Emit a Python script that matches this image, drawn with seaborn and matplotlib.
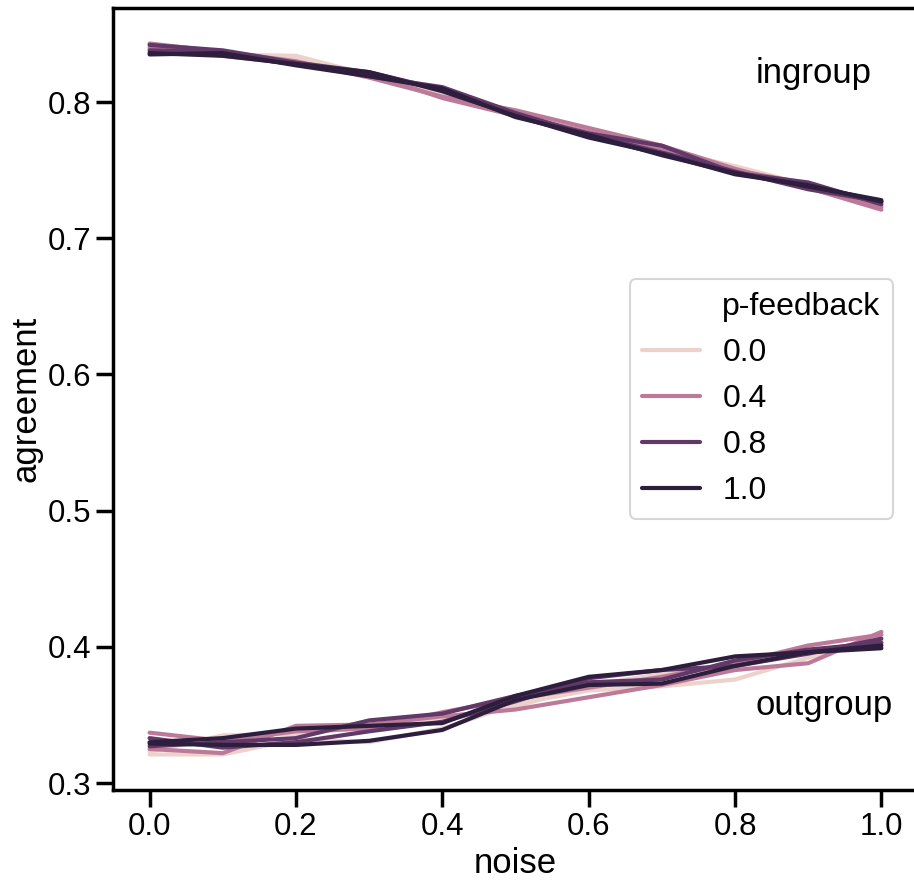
import matplotlib
matplotlib.use("Agg")
import matplotlib.pyplot as plt
from matplotlib.lines import Line2D
import pandas as pd
import seaborn as sns

# noise levels on the x axis
noise = [0.0, 0.1, 0.2, 0.3, 0.4, 0.5, 0.6, 0.7, 0.8, 0.9, 1.0]

# p-feedback levels (hue), two runs each
p_feedback = [0.0, 0.4, 0.8, 1.0]
runs = [1, 2]

# agreement, ingroup: one list per (p-feedback, run)
ingroup = {
    (0.0, 1): [0.839, 0.836, 0.832, 0.821, 0.806, 0.791, 0.779, 0.767, 0.752, 0.738, 0.724],
    (0.0, 2): [0.837, 0.835, 0.834, 0.820, 0.807, 0.793, 0.777, 0.765, 0.753, 0.739, 0.726],
    (0.4, 1): [0.843, 0.837, 0.830, 0.818, 0.804, 0.794, 0.781, 0.768, 0.751, 0.737, 0.721],
    (0.4, 2): [0.840, 0.834, 0.828, 0.821, 0.803, 0.790, 0.778, 0.766, 0.750, 0.740, 0.723],
    (0.8, 1): [0.842, 0.838, 0.829, 0.822, 0.809, 0.790, 0.777, 0.768, 0.748, 0.741, 0.725],
    (0.8, 2): [0.838, 0.837, 0.828, 0.819, 0.811, 0.792, 0.776, 0.763, 0.749, 0.736, 0.727],
    (1.0, 1): [0.835, 0.836, 0.827, 0.819, 0.810, 0.789, 0.776, 0.761, 0.748, 0.738, 0.728],
    (1.0, 2): [0.836, 0.834, 0.828, 0.822, 0.808, 0.790, 0.774, 0.762, 0.747, 0.739, 0.727],
}

# agreement, outgroup
outgroup = {
    (0.0, 1): [0.321, 0.321, 0.332, 0.330, 0.340, 0.358, 0.368, 0.371, 0.376, 0.392, 0.408],
    (0.0, 2): [0.323, 0.335, 0.336, 0.341, 0.348, 0.356, 0.372, 0.380, 0.385, 0.397, 0.404],
    (0.4, 1): [0.325, 0.322, 0.342, 0.343, 0.349, 0.354, 0.363, 0.372, 0.383, 0.388, 0.411],
    (0.4, 2): [0.337, 0.331, 0.338, 0.340, 0.352, 0.362, 0.370, 0.378, 0.388, 0.401, 0.409],
    (0.8, 1): [0.327, 0.330, 0.333, 0.346, 0.351, 0.364, 0.374, 0.376, 0.390, 0.398, 0.403],
    (0.8, 2): [0.333, 0.326, 0.330, 0.338, 0.345, 0.360, 0.377, 0.383, 0.386, 0.395, 0.406],
    (1.0, 1): [0.330, 0.333, 0.340, 0.342, 0.344, 0.364, 0.378, 0.383, 0.393, 0.396, 0.399],
    (1.0, 2): [0.329, 0.328, 0.328, 0.331, 0.339, 0.361, 0.372, 0.373, 0.386, 0.396, 0.401],
}

# long-form table
rows = []
for group, values in [("ingroup", ingroup), ("outgroup", outgroup)]:
    for (p, r), ys in values.items():
        for x, y in zip(noise, ys):
            rows.append({"noise": x, "agreement": y, "p-feedback": p,
                         "unit": f"{group}-{r}-{p}"})
df = pd.DataFrame(rows)

sns.set_theme(style="ticks", context="talk")
plt.rcParams["font.family"] = ["Liberation Sans", "DejaVu Sans"]
plt.rcParams["text.color"] = "black"
plt.rcParams["axes.labelcolor"] = "black"
plt.rcParams["axes.edgecolor"] = "black"
plt.rcParams["xtick.color"] = "black"
plt.rcParams["ytick.color"] = "black"

fig = plt.figure(figsize=(9.14, 8.82), dpi=100)
ax = fig.add_axes([113 / 914, 92 / 882, 805 / 914, 782 / 882])

sns.lineplot(
    data=df,
    x="noise",
    y="agreement",
    hue="p-feedback",
    units="unit",
    estimator=None,
    linewidth=3,
    ax=ax
)

# legend with the hue name as a first, handle-less entry
handles, labels = ax.get_legend_handles_labels()
title_handle = Line2D([], [], alpha=0)
leg = ax.legend(
    [title_handle] + handles,
    ["p-feedback"] + labels,
    loc="center left",
    bbox_to_anchor=(0.622, 0.5),
    fontsize=23,
    frameon=True,
    handlelength=1.8,
    handletextpad=0.7,
)
for line in leg.get_lines():
    line.set_linewidth(3)

ax.text(0.828, 0.821, "ingroup", fontsize=25, va="center", ha="left")
ax.text(0.828, 0.357, "outgroup", fontsize=25, va="center", ha="left")

ax.set_xticks([0.0, 0.2, 0.4, 0.6, 0.8, 1.0])
ax.set_yticks([0.3, 0.4, 0.5, 0.6, 0.7, 0.8])
ax.tick_params(labelsize=22.5, length=12, width=2.5)
for s in ax.spines.values():
    s.set_linewidth(2.5)
ax.set_xlabel("noise", fontsize=25)
ax.set_ylabel("agreement", fontsize=25)

fig.savefig("out.png", dpi=100)
plt.close(fig)
